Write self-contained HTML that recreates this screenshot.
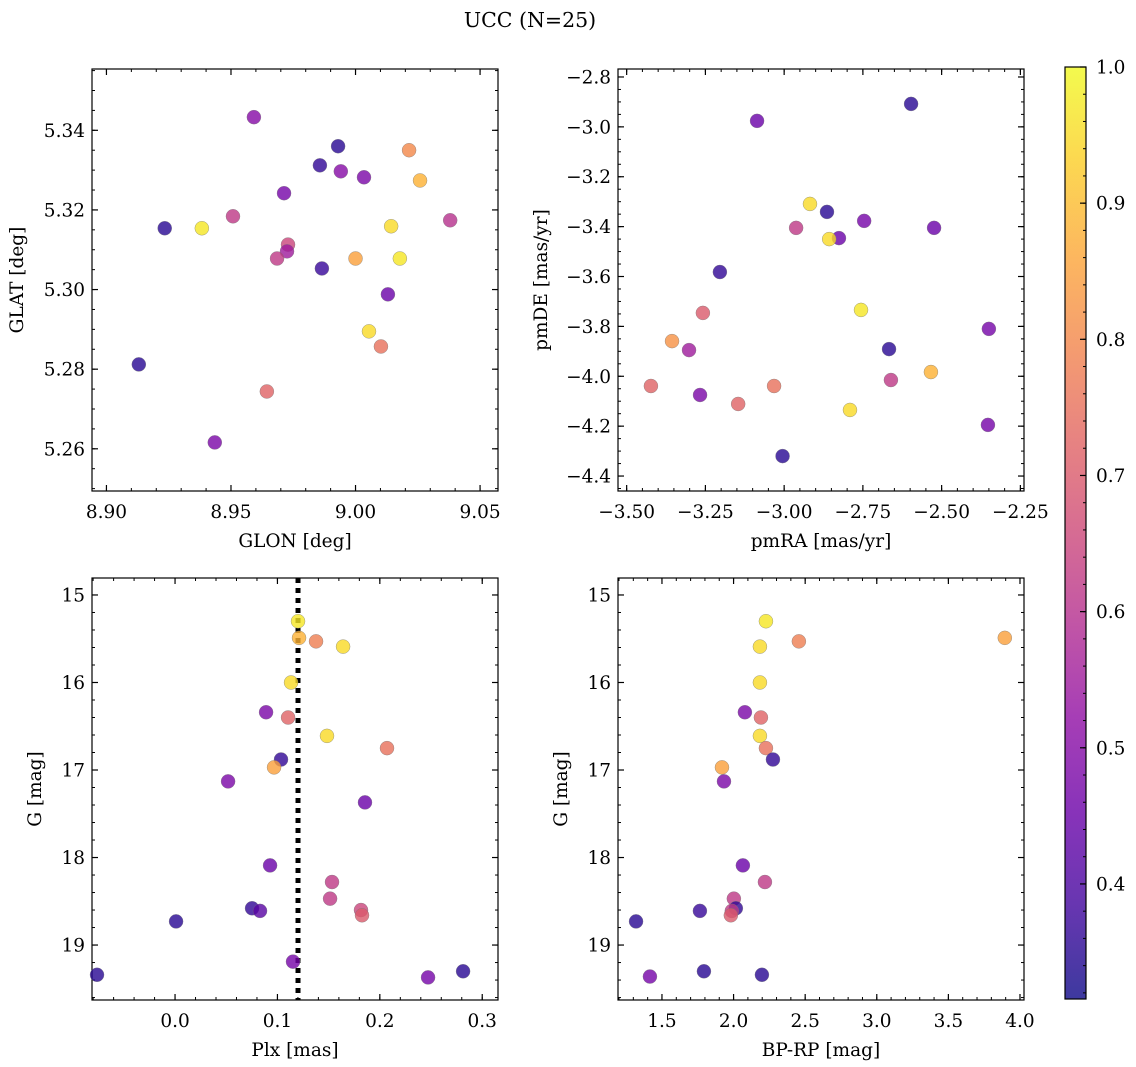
<!DOCTYPE html>
<html><head><meta charset="utf-8"><style>
html,body{margin:0;padding:0;background:#fff;}
svg{display:block;font-family:"DejaVu Serif","Liberation Serif",serif;}
</style></head><body>
<svg id="fig" width="1136" height="1067" viewBox="0 0 1136 1067" xmlns="http://www.w3.org/2000/svg">
<defs>
<linearGradient id="plasmaGrad" x1="0" y1="1" x2="0" y2="0"></linearGradient>
</defs>
<text x="530" y="27" font-size="20.5" text-anchor="middle">UCC (N=25)</text>
</svg>
<script>
// ---- data ----
const glon = [8.9592,8.9930,9.0215,8.9857,8.9941,9.0034,9.0259,8.9713,8.9508,8.9234,8.9383,9.0143,9.0380,8.9729,8.9725,8.9685,9.0000,9.0178,8.9865,9.0130,9.0054,9.0102,8.9130,8.9644,8.9435];
const glat = [5.3433,5.3360,5.3350,5.3312,5.3297,5.3282,5.3274,5.3242,5.3184,5.3154,5.3154,5.3159,5.3174,5.3113,5.3096,5.3078,5.3078,5.3078,5.3053,5.2988,5.2895,5.2857,5.2812,5.2744,5.2616];
const probA = [0.50,0.35,0.80,0.36,0.50,0.48,0.88,0.47,0.62,0.35,0.97,0.95,0.60,0.65,0.55,0.62,0.85,0.97,0.37,0.45,0.95,0.75,0.35,0.72,0.48];

const pmra = [-2.597,-3.086,-2.918,-2.864,-2.746,-2.962,-2.826,-2.857,-2.524,-3.204,-2.756,-3.258,-3.356,-3.302,-2.667,-2.350,-2.661,-2.534,-3.423,-3.032,-3.267,-3.146,-2.791,-2.353,-3.005];
const pmde = [-2.908,-2.976,-3.309,-3.341,-3.377,-3.405,-3.446,-3.450,-3.405,-3.582,-3.734,-3.746,-3.859,-3.895,-3.891,-3.810,-4.015,-3.983,-4.039,-4.039,-4.075,-4.111,-4.135,-4.195,-4.320];
const probB = [0.35,0.45,0.95,0.35,0.47,0.62,0.45,0.95,0.45,0.36,0.97,0.70,0.82,0.55,0.35,0.47,0.62,0.88,0.72,0.75,0.48,0.72,0.95,0.47,0.35];

const plx = [0.1201,0.1211,0.1377,0.1641,0.1133,0.0889,0.1104,0.1484,0.2070,0.1035,0.0967,0.0518,0.1855,0.0928,0.1533,0.1514,0.1816,0.1826,0.0752,0.0830,0.0010,0.1152,-0.0762,0.2471,0.2813];
const gmagC = [15.30,15.49,15.53,15.59,16.00,16.34,16.40,16.61,16.75,16.88,16.97,17.13,17.37,18.09,18.28,18.47,18.60,18.66,18.58,18.61,18.73,19.19,19.34,19.37,19.30];
const probC = [0.97,0.88,0.78,0.95,0.95,0.48,0.72,0.95,0.75,0.36,0.85,0.48,0.45,0.45,0.62,0.62,0.65,0.70,0.36,0.42,0.35,0.47,0.35,0.47,0.35];
const plxMean = [0.1201];

const bprp = [2.226,3.894,2.456,2.184,2.184,2.079,2.191,2.184,2.226,2.275,1.919,1.933,2.065,2.219,2.002,2.016,1.988,1.981,1.765,1.319,1.416,1.793,2.198];
const gmagD = [15.30,15.49,15.53,15.59,16.00,16.34,16.40,16.61,16.75,16.88,16.97,17.13,18.09,18.28,18.47,18.58,18.61,18.66,18.61,18.73,19.36,19.30,19.34];
const probD = [0.97,0.85,0.78,0.95,0.95,0.48,0.72,0.95,0.75,0.36,0.85,0.48,0.45,0.62,0.62,0.36,0.62,0.70,0.37,0.35,0.47,0.35,0.35];

const ticksA_x=[8.90,8.95,9.00,9.05], ticksA_y=[5.26,5.28,5.30,5.32,5.34];
const ticksB_x=[-3.50,-3.25,-3.00,-2.75,-2.50,-2.25], ticksB_y=[-4.4,-4.2,-4.0,-3.8,-3.6,-3.4,-3.2,-3.0,-2.8];
const ticksC_x=[0.0,0.1,0.2,0.3], ticksG=[15,16,17,18,19];
const ticksD_x=[1.5,2.0,2.5,3.0,3.5,4.0];
const cbTicks=[0.4,0.5,0.6,0.7,0.8,0.9,1.0];
const cMin=0.3155, cMax=1.0;

// ---- helpers ----
const NS="http://www.w3.org/2000/svg";
const svg=document.getElementById('fig');
const TF=18.5, LF=18.5;
function mk(tag,attrs,parent){const e=document.createElementNS(NS,tag);for(const k in attrs)e.setAttribute(k,attrs[k]);(parent||svg).appendChild(e);return e;}
const stops=[[13,8,135],[65,4,157],[106,0,168],[143,13,164],[177,42,144],[204,71,120],[225,100,98],[242,132,75],[252,166,54],[252,206,37],[240,249,33]];
function plasma(t){t=Math.max(0,Math.min(1,t));const f=t*10,i=Math.min(9,Math.floor(f)),r=f-i;const a=stops[i],b=stops[i+1];
 return 'rgb('+a.map((v,k)=>Math.round(v+(b[k]-v)*r)).join(',')+')';}
function cnorm(v){return (v-cMin)/(cMax-cMin);}
function fmt(v,d){const s=Math.abs(v).toFixed(d);return (v<0?'\u2212':'')+s;}

function panel(name,box,xr,yr,xt,yt,xd,yd,xminor,yminor,xlabel,ylabel,ylabX){
 const [L,T,R,B]=box;
 const sx=v=>L+(v-xr[0])/(xr[1]-xr[0])*(R-L);
 const sy=v=>B-(v-yr[0])/(yr[1]-yr[0])*(B-T);
 const g=mk('g',{});
 
 
 const lo=Math.min(xr[0],xr[1]),hi=Math.max(xr[0],xr[1]);
 for(let v=Math.ceil(lo/xminor-1e-6)*xminor;v<=hi+1e-9;v+=xminor){const x=sx(v);
  mk('line',{x1:x,x2:x,y1:B,y2:B-3,stroke:'#000','stroke-width':1},g);mk('line',{x1:x,x2:x,y1:T,y2:T+3,stroke:'#000','stroke-width':1},g);}
 const ylo=Math.min(yr[0],yr[1]),yhi=Math.max(yr[0],yr[1]);
 for(let v=Math.ceil(ylo/yminor-1e-6)*yminor;v<=yhi+1e-9;v+=yminor){const y=sy(v);
  mk('line',{x1:L,x2:L+3,y1:y,y2:y,stroke:'#000','stroke-width':1},g);mk('line',{x1:R,x2:R-3,y1:y,y2:y,stroke:'#000','stroke-width':1},g);}
 xt.forEach(v=>{const x=sx(v);
  mk('line',{x1:x,x2:x,y1:B,y2:B-6,stroke:'#000','stroke-width':1.2},g);mk('line',{x1:x,x2:x,y1:T,y2:T+6,stroke:'#000','stroke-width':1.2},g);
  const t=mk('text',{x:x,y:B+27,'font-size':TF,'text-anchor':'middle'},g);t.textContent=fmt(v,xd);
  
  });
 yt.forEach(v=>{const y=sy(v);
  mk('line',{x1:L,x2:L+6,y1:y,y2:y,stroke:'#000','stroke-width':1.2},g);mk('line',{x1:R,x2:R-6,y1:y,y2:y,stroke:'#000','stroke-width':1.2},g);
  const t=mk('text',{x:L-7,y:y+6.5,'font-size':TF,'text-anchor':'end'},g);t.textContent=fmt(v,yd);
  
  });
 const fr=mk('rect',{x:L,y:T,width:R-L,height:B-T,fill:'none',stroke:'#000','stroke-width':1.2},g);
 
 
 const xl=mk('text',{x:(L+R)/2,y:B+56,'font-size':LF,'text-anchor':'middle'},g);xl.textContent=xlabel;
 
 
 const yl=mk('text',{x:ylabX,y:(T+B)/2,'font-size':LF,'text-anchor':'middle',transform:'rotate(-90 '+ylabX+' '+((T+B)/2)+')'},g);yl.textContent=ylabel;
 
 
 return {g,sx,sy};
}
function scatter(p,xs,ys,cs){
 xs.forEach((xv,i)=>{const c=mk('circle',{cx:p.sx(xv),cy:p.sy(ys[i]),r:7,fill:plasma(cnorm(cs[i])),'fill-opacity':0.8,stroke:'#777','stroke-width':0.5,'stroke-opacity':0.7},p.g);
  
  });
}

const pA=panel('panel-glon-glat',[92,69,498,491],[8.8942,9.0572],[5.2494,5.3554],ticksA_x,ticksA_y,2,2,0.01,0.005,'GLON [deg]','GLAT [deg]',23);
scatter(pA,glon,glat,probA);
const pB=panel('panel-pm',[618,69,1024,491],[-3.5275,-2.2385],[-4.460,-2.768],ticksB_x,ticksB_y,2,1,0.05,0.05,'pmRA [mas/yr]','pmDE [mas/yr]',547);
scatter(pB,pmra,pmde,probB);
const pC=panel('panel-plx-g',[92,578,498,1000],[-0.0811,0.3154],[19.628,14.806],ticksC_x,ticksG,1,0,0.02,0.2,'Plx [mas]','G [mag]',41);
plxMean.forEach(v=>{const x=pC.sx(v);const l=mk('line',{x1:x,x2:x,y1:578,y2:1000,stroke:'#000','stroke-width':5,'stroke-dasharray':'5,5'},pC.g);
 
 });
scatter(pC,plx,gmagC,probC);
const pD=panel('panel-cmd',[618,578,1024,1000],[1.193,4.028],[19.628,14.806],ticksD_x,ticksG,1,0,0.1,0.2,'BP-RP [mag]','G [mag]',567);
scatter(pD,bprp,gmagD,probD);

// colorbar
const grad=document.getElementById('plasmaGrad');
for(let i=0;i<=20;i++){const t=i/20;mk('stop',{offset:t,'stop-color':plasma(t),'stop-opacity':0.8},grad);}
const cb=mk('g',{});


const cbT=67,cbB=999,cbL=1065,cbR=1086;
mk('rect',{x:cbL,y:cbT,width:cbR-cbL,height:cbB-cbT,fill:'url(#plasmaGrad)',stroke:'#000','stroke-width':1.2},cb);
const cy=v=>cbB-(v-cMin)/(cMax-cMin)*(cbB-cbT);
for(let v=0.32;v<1.0001;v+=0.02){mk('line',{x1:cbR,x2:cbR-3,y1:cy(v),y2:cy(v),stroke:'#000','stroke-width':1},cb);}
cbTicks.forEach(v=>{const y=cy(v);mk('line',{x1:cbR,x2:cbR-6,y1:y,y2:y,stroke:'#000','stroke-width':1.2},cb);
 const t=mk('text',{x:cbR+10,y:y+6.5,'font-size':TF},cb);t.textContent=v.toFixed(1);
 
 });
</script>
</body></html>
